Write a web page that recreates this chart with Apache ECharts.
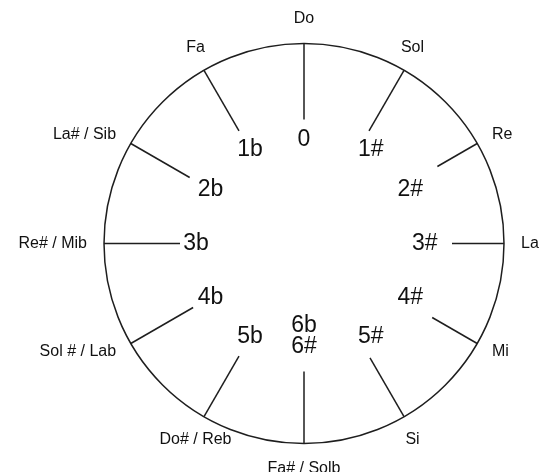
<!DOCTYPE html>
<html>
<head>
<meta charset="utf-8">
<script src="https://cdn.jsdelivr.net/npm/echarts@6/dist/echarts.min.js"></script>
<style>
html,body{margin:0;padding:0;background:#fff;}
#chart{width:539px;height:472px;}
</style>
</head>
<body>
<div id="chart"></div>
<script>
// Circle of fifths: notes clockwise from the top
const notes = ['Do', 'Sol', 'Re', 'La', 'Mi', 'Si', 'Fa# / Solb', 'Do# / Reb', 'Sol # / Lab', 'Re# / Mib', 'La# / Sib', 'Fa'];
// Key signature of each note
const keySignatures = ['0', '1#', '2#', '3#', '4#', '5#', '6b\n6#', '5b', '4b', '3b', '2b', '1b'];
// Radius (0 = centre, 1 = rim) where each spoke starts
const spokeStart = [0.62, 0.65, 0.77, 0.74, 0.74, 0.66, 0.64, 0.65, 0.64, 0.62, 0.66, 0.65];

const RIM = 1;
const INNER_LABEL_R = 0.54;
const OUTER_LABEL_R = 1.085;
const INK = '#1e1e1e';
const FONT = '"Liberation Sans", Arial, sans-serif';

const chart = echarts.init(document.getElementById('chart'), null, {renderer: 'canvas'});

const option = {
  animation: false,
  backgroundColor: '#fff',
  polar: {center: [304, 243.5], radius: 200},
  angleAxis: {
    type: 'category',
    data: notes,
    // categories sit in the middle of their 30° band: shift by half a band so 'Do' is at the top
    startAngle: 105,
    clockwise: true,
    boundaryGap: true,
    axisLine: {show: true, lineStyle: {color: INK, width: 1.5}},
    axisTick: {show: false},
    axisLabel: {show: false},
    splitLine: {show: false}
  },
  radiusAxis: {
    type: 'value', min: 0, max: 1, show: false,
    axisLine: {show: false}, axisTick: {show: false}, axisLabel: {show: false}, splitLine: {show: false}
  },
  series: [{
    type: 'custom',
    coordinateSystem: 'polar',
    clip: false,
    silent: true,
    data: notes.map((n, i) => [spokeStart[i], i]),
    renderItem: function (params, api) {
      const i = api.value(1);
      const start = api.coord([api.value(0), i]);
      const rim = api.coord([RIM, i]);
      const c = api.coord([0, i]);
      const dx = rim[0] - c[0], dy = rim[1] - c[1];
      const len = Math.hypot(dx, dy) || 1;
      const s = dx / len, co = -dy / len;

      // inner (key signature) label placement
      const inR = co < -0.9 ? 0.57 : (co > 0.9 ? 0.52 : INNER_LABEL_R);
      const pIn = api.coord([inR, i]);
      const inAlign = s > 0.1 ? 'left' : 'center';
      const inVAlign = co < -0.9 ? 'bottom' : 'middle';

      // outer (note name) label placement
      const pOut = api.coord([OUTER_LABEL_R, i]);
      const outAlign = Math.abs(s) < 0.6 ? 'center' : (s > 0 ? 'left' : 'right');
      const outVAlign = Math.abs(co) < 0.6 ? 'middle' : (co > 0 ? 'bottom' : 'top');

      return {
        type: 'group',
        children: [
          {
            type: 'line',
            shape: {x1: start[0], y1: start[1], x2: rim[0], y2: rim[1]},
            style: {stroke: INK, lineWidth: 1.5}
          },
          {
            type: 'text',
            x: pIn[0], y: pIn[1],
            style: {
              text: keySignatures[i],
              fontFamily: FONT,
              fontSize: 23,
              lineHeight: 21,
              fill: '#111',
              align: inAlign,
              verticalAlign: inVAlign
            }
          },
          {
            type: 'text',
            x: pOut[0], y: pOut[1],
            style: {
              text: notes[i],
              fontFamily: FONT,
              fontSize: 16,
              fill: '#111',
              align: outAlign,
              verticalAlign: outVAlign
            }
          }
        ]
      };
    }
  }]
};

chart.setOption(option);
</script>
</body>
</html>
